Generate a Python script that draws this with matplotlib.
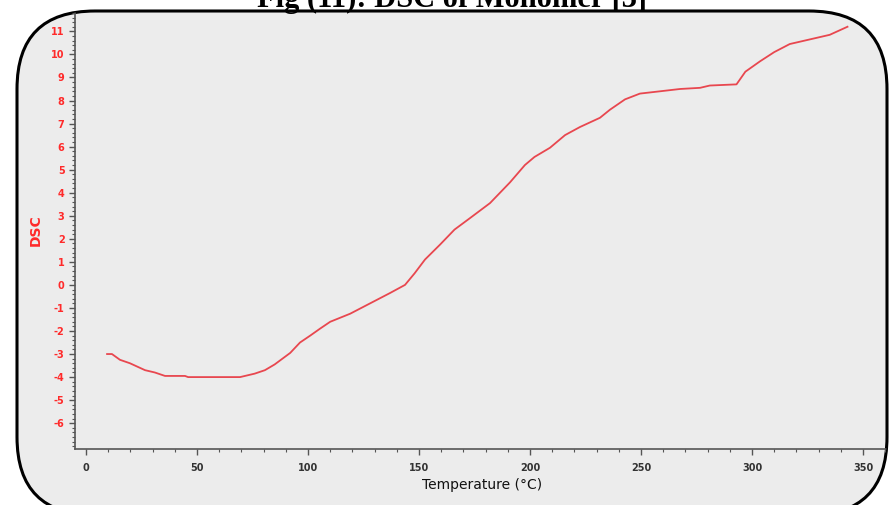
import matplotlib
matplotlib.use("Agg")
import matplotlib.pyplot as plt
from matplotlib.patches import FancyBboxPatch
from matplotlib.ticker import MultipleLocator

plt.rcParams["axes.unicode_minus"] = False

# Data
temperature = [9.5, 11.7, 15.3, 19.8, 26.6, 31, 35.6, 40, 44.6, 46, 55, 62, 69.4,
               76, 80.6, 85, 92, 96.4, 101, 105.4, 110, 119, 128, 137, 143.7,
               148, 152.7, 159.5, 166, 173, 182, 191, 197.7, 202, 209, 215.8,
               222.5, 231.5, 236, 242.8, 249.5, 258.6, 267.6, 276.6, 281, 293,
               297, 303.6, 310, 317, 326, 335, 343]
dsc = [-3.0, -3.0, -3.25, -3.4, -3.7, -3.8, -3.95, -3.95, -3.95, -4.0, -4.0, -4.0, -4.0,
       -3.85, -3.7, -3.45, -2.95, -2.5, -2.2, -1.9, -1.6, -1.25, -0.8, -0.35, 0.0,
       0.5, 1.1, 1.75, 2.4, 2.9, 3.55, 4.45, 5.2, 5.55, 5.95, 6.5,
       6.85, 7.25, 7.6, 8.05, 8.3, 8.4, 8.5, 8.55, 8.65, 8.7,
       9.25, 9.7, 10.1, 10.45, 10.65, 10.85, 11.2]
x_ticks = [0, 50, 100, 150, 200, 250, 300, 350]
y_ticks = list(range(-6, 12))
title = "Fig (11): DSC of Monomer [3]"
x_label = "Temperature (°C)"
y_label = "DSC"

W, H = 889, 505
fig = plt.figure(figsize=(W / 100, H / 100), dpi=100)
fig.patch.set_facecolor("white")

# Rounded panel border (in inches, isotropic)
panel = FancyBboxPatch((17 / 100, -10 / 100), (887 - 17) / 100, (H - 11 + 10) / 100,
                       boxstyle="round,pad=0,rounding_size=0.78",
                       transform=fig.dpi_scale_trans, facecolor="#ececec",
                       edgecolor="black", linewidth=2.2, zorder=0)
fig.patches.append(panel)

ax = fig.add_axes([75 / W, (H - 449) / H, (W - 75) / W, (449 - 12) / H])
ax.set_zorder(2)
ax.patch.set_visible(False)
ax.set_xlim(-4.95, 361.7)
ax.set_ylim(-7.12, 11.84)

line, = ax.plot(temperature, dsc, color="#e8474f", lw=1.3)
line.set_clip_path(panel)

for s in ["top", "right"]:
    ax.spines[s].set_visible(False)
for s in ["left", "bottom"]:
    ax.spines[s].set_color("#555555")
    ax.spines[s].set_linewidth(1.2)
    ax.spines[s].set_clip_path(panel)

ax.set_xticks(x_ticks)
ax.set_yticks(y_ticks)
ax.xaxis.set_minor_locator(MultipleLocator(10))
ax.yaxis.set_minor_locator(MultipleLocator(0.2))
ax.tick_params(axis="both", which="major", direction="out", length=4, width=1, color="#555555")
ax.tick_params(axis="both", which="minor", direction="out", length=2, width=0.8, color="#555555")
for lab in ax.get_yticklabels():
    lab.set_color("#ff2a2a")
    lab.set_fontweight("bold")
    lab.set_fontsize(7)
for lab in ax.get_xticklabels():
    lab.set_color("#333333")
    lab.set_fontweight("bold")
    lab.set_fontsize(7)
ax.tick_params(axis="x", pad=6)

ax.set_xlabel(x_label, fontsize=10, color="#111111", labelpad=4)
ax.set_ylabel(y_label, fontsize=10, color="#ff2a2a", fontweight="bold", labelpad=6)

fig.text(452 / W, (H - 7) / H, title, ha="center", va="baseline",
         fontsize=22, fontweight="bold", family="Liberation Serif", color="black",
         zorder=3)

fig.savefig("out.png", dpi=100)
